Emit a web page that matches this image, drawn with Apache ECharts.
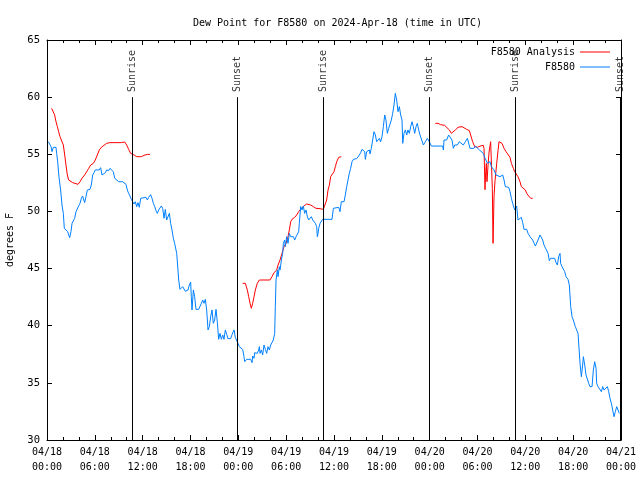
<!DOCTYPE html>
<html><head><meta charset="utf-8">
<script src="https://cdn.jsdelivr.net/npm/echarts@6/dist/echarts.min.js"></script>
<style>html,body{margin:0;padding:0;background:#fff}#c{width:640px;height:480px}</style>
</head><body><div id="c"></div>
<script>
const titleText = 'Dew Point for F8580 on 2024-Apr-18 (time in UTC)';
const yAxisName = 'degrees F';
const xTickLabels = ['04/18\n00:00','04/18\n06:00','04/18\n12:00','04/18\n18:00','04/19\n00:00','04/19\n06:00','04/19\n12:00','04/19\n18:00','04/20\n00:00','04/20\n06:00','04/20\n12:00','04/20\n18:00','04/21\n00:00'];
const seriesNames = ['F8580 Analysis', 'F8580'];
const sunNames = ['Sunrise','Sunset','Sunrise','Sunset','Sunrise','Sunset'];
const sunHours = [10.70, 23.90, 34.66, 47.98, 58.79, 71.96];

// hours since 2024-04-18 00:00 UTC
const blueHours = [0.17,0.42,0.50,0.63,0.79,1.13,1.21,1.34,1.50,1.71,1.88,2.05,2.17,2.42,2.59,2.72,2.84,3.01,3.14,3.30,3.47,3.64,3.80,3.97,4.14,4.31,4.47,4.64,4.72,4.89,5.06,5.23,5.39,5.56,5.73,5.90,6.06,6.31,6.56,6.73,6.90,7.15,7.32,7.48,7.74,7.90,8.15,8.32,8.49,8.74,8.99,9.49,9.74,9.91,10.08,10.24,10.41,10.58,10.75,10.91,11.08,11.25,11.41,11.58,11.75,11.92,12.42,12.59,12.75,13.00,13.17,13.34,13.51,13.67,13.84,14.01,14.17,14.34,14.51,14.68,14.84,15.01,15.18,15.35,15.51,15.68,15.85,16.01,16.27,16.43,16.52,16.68,16.85,17.02,17.18,17.35,17.52,17.69,17.85,18.02,18.10,18.19,18.36,18.52,18.69,19.03,19.36,19.53,19.69,19.86,20.03,20.20,20.36,20.53,20.70,20.86,21.03,21.20,21.37,21.53,21.70,21.87,22.04,22.20,22.37,22.54,22.70,23.04,23.21,23.46,23.62,23.79,23.96,24.12,
24.21,24.54,24.71,24.80,25.05,25.55,25.72,25.80,25.97,26.05,26.22,26.38,26.55,26.64,26.72,26.89,27.05,27.22,27.39,27.56,27.72,27.89,28.06,28.22,28.39,28.56,28.64,28.73,28.89,28.98,29.14,29.23,29.40,29.56,29.65,29.81,29.90,30.06,30.23,30.40,30.57,30.73,30.90,31.07,31.24,31.40,31.57,31.65,31.82,31.99,32.15,32.32,32.49,32.66,32.82,32.99,33.16,33.33,33.49,33.66,33.83,33.91,34.00,34.08,34.25,34.41,34.58,35.75,35.92,36.08,36.59,36.75,36.92,37.09,37.26,37.42,37.59,37.76,37.92,38.09,38.26,38.43,38.84,39.10,39.35,39.51,39.68,39.85,39.93,40.10,40.27,40.43,40.52,40.68,40.85,41.02,41.19,41.35,41.52,41.69,41.85,42.02,42.19,42.36,42.52,42.69,42.86,43.03,43.19,43.36,43.53,43.69,43.86,44.03,44.20,44.36,44.53,44.62,44.78,44.95,45.12,45.28,45.45,45.62,45.79,45.95,46.12,46.29,46.45,46.62,
46.79,47.00,47.21,47.46,47.71,47.96,48.21,49.63,49.72,49.80,49.97,50.13,50.38,50.55,50.80,50.97,51.14,51.47,51.72,51.97,52.22,52.48,52.73,52.89,53.06,53.56,53.73,53.98,54.23,54.73,54.90,55.07,55.24,55.57,55.74,56.07,56.32,56.49,56.82,56.99,57.16,57.33,57.49,57.91,58.08,58.25,58.41,58.66,58.91,59.08,59.33,59.50,59.67,59.83,60.17,60.34,60.59,60.75,60.92,61.26,61.42,61.59,61.84,62.01,62.18,62.34,62.59,62.85,63.01,63.18,63.68,63.85,64.02,64.18,64.35,64.43,64.60,64.77,64.94,65.10,65.35,65.52,65.69,65.86,66.02,66.27,66.44,66.61,66.78,66.86,67.03,67.19,67.28,67.45,67.61,67.78,67.95,68.11,68.37,68.53,68.70,68.87,68.95,69.12,69.37,69.54,69.70,69.87,70.04,70.29,70.46,70.62,70.79,70.96,71.12,71.29,71.46,71.63,71.79];
const blueValues = [56.1,56.1,55.67,55.23,55.61,55.61,55.08,54.35,53.04,51.87,50.56,49.83,48.52,48.43,48.23,48.08,47.70,48.23,48.96,48.81,49.40,49.98,50.13,50.48,50.71,51.15,51.35,51.52,50.77,51.29,51.87,52.02,51.93,52.31,53.19,53.39,53.63,53.48,53.63,53.83,53.19,53.19,53.39,53.63,53.57,53.77,53.86,53.48,52.90,52.81,52.60,52.60,52.69,52.37,51.87,51.58,51.35,51.06,50.94,50.65,50.85,50.42,50.77,50.36,51.15,51.23,51.23,51.00,51.23,51.47,51.15,50.71,50.42,50.07,49.83,50.13,50.24,50.48,50.27,49.40,50.18,49.25,49.40,49.83,48.96,48.37,47.65,47.21,46.33,44.87,44.00,43.18,43.13,43.42,43.48,43.01,43.18,43.13,43.56,43.82,42.54,41.38,43.13,42.54,41.43,41.43,41.96,42.25,41.96,42.31,41.38,39.63,39.92,40.79,41.38,40.21,40.50,41.43,40.27,38.81,39.33,38.81,39.19,38.81,39.63,39.25,38.87,38.87,39.22,39.63,38.98,39.04,38.46,38.17,
38.02,37.93,37.29,36.85,37.06,37.06,36.77,37.35,37.15,37.64,37.73,37.58,37.88,38.17,37.58,37.88,37.44,38.31,37.93,37.58,38.17,37.88,38.31,38.46,38.75,39.33,41.67,44.00,44.87,44.29,45.17,44.87,45.75,46.33,47.21,47.50,46.92,47.79,47.21,48.08,47.79,47.94,47.79,47.50,47.79,47.94,48.23,48.96,50.42,50.13,50.48,49.83,50.13,49.54,49.25,49.40,49.54,49.25,49.40,48.96,48.67,47.79,48.08,48.52,48.96,49.10,49.31,49.31,50.27,50.42,50.36,49.98,50.85,51.00,50.85,51.44,52.17,52.75,53.33,53.77,54.35,54.56,54.62,54.85,55.14,55.43,55.52,55.23,54.56,55.23,55.08,55.38,55.03,55.52,56.25,56.98,56.69,56.10,56.25,56.40,56.10,56.54,57.42,58.44,58.00,56.83,57.27,57.42,58.00,58.58,59.31,60.33,59.75,58.73,59.17,58.44,58.00,55.96,56.83,57.13,56.69,57.13,56.83,57.42,57.85,57.42,56.83,57.42,57.71,57.13,
56.69,56.25,55.81,56.10,56.40,56.10,55.72,55.72,55.38,56.25,56.10,56.25,56.69,56.54,56.25,55.52,55.81,55.81,56.10,55.96,55.81,56.10,56.40,56.54,55.52,55.52,55.72,55.61,55.38,55.08,54.73,54.73,54.21,54.35,53.92,53.63,53.19,53.04,53.04,52.90,53.19,52.75,52.17,52.11,51.73,51.15,50.71,50.13,50.48,49.25,49.31,49.48,49.02,48.43,48.43,48.08,47.79,47.85,47.50,46.97,46.97,47.50,47.94,48.08,47.50,47.06,47.15,46.33,45.69,45.90,45.90,45.52,45.31,46.04,46.33,45.46,45.17,45.02,44.73,44.29,44.06,43.56,41.67,40.79,40.50,39.92,39.62,39.33,39.33,36.71,35.54,36.56,37.29,36.56,35.69,35.54,34.96,34.67,34.67,36.12,36.85,36.27,34.96,34.67,34.52,34.23,34.67,34.37,34.52,34.67,34.23,33.65,33.21,32.62,32.04,32.48,32.92,33.06,32.33];

const red1Hours = [0.58,0.79,0.96,1.13,1.30,1.46,1.63,1.88,2.05,2.22,2.38,2.55,2.72,2.97,3.22,3.47,3.89,4.14,4.39,4.72,4.98,5.23,5.48,5.81,6.06,6.31,6.56,6.82,7.07,7.48,7.90,9.32,9.74,9.99,10.24,10.49,10.66,10.99,11.25,11.83,12.17,12.59,12.92];
const red1Values = [59.02,59.02,58.44,57.85,57.42,56.98,56.54,56.40,55.81,54.94,54.06,53.19,52.75,52.66,52.52,52.37,52.37,52.60,52.90,53.19,53.48,53.77,54.06,54.21,54.50,54.94,55.38,55.61,55.73,55.96,56.02,56.02,56.08,55.81,55.44,55.08,54.91,54.91,54.79,54.79,54.91,54.99,54.99];
const red2Hours = [24.54,24.88,25.13,25.30,25.47,25.63,25.80,25.97,26.13,26.38,26.64,27.97,28.22,28.47,28.81,28.98,29.23,29.48,29.73,29.98,30.23,30.40,30.57,30.73,31.07,31.32,31.57,31.90,32.24,32.57,32.82,33.07,33.41,33.74,34.25,34.66,34.91,35.08,35.25,35.42,35.58,35.75,36.00,36.17,36.34,36.59,36.92];
const red2Values = [43.71,43.71,43.12,42.54,41.96,41.52,41.96,42.54,43.12,43.71,44.00,44.00,44.29,44.64,44.87,45.31,45.75,46.33,46.92,47.21,47.79,48.38,49.10,49.31,49.48,49.69,49.98,50.27,50.48,50.65,50.71,50.56,50.42,50.27,50.24,50.18,50.27,51.00,51.87,52.31,53.04,53.19,53.48,53.92,54.35,54.73,54.79];
const red3Hours = [48.71,49.05,49.38,49.88,50.13,50.47,50.72,50.97,51.22,51.56,51.81,52.06,52.31,52.64,52.98,53.14,53.39,53.65,53.98,54.32,54.73,54.82,54.94,55.03,55.11,55.19,55.32,55.45,55.65,55.78,55.86,55.95,56.07,56.20,56.41,56.57,56.70,56.82,57.07,57.33,57.58,57.83,58.08,58.25,58.50,58.66,58.91,59.08,59.33,59.50,59.67,60.00,60.17,60.42,60.67,60.92];
const red3Values = [57.71,57.71,57.59,57.53,57.36,57.13,56.83,56.89,57.13,57.36,57.48,57.42,57.27,57.18,57.07,56.69,56.10,55.67,55.61,55.72,55.78,55.50,51.90,53.50,54.20,52.60,54.00,55.20,56.10,56.10,52.00,47.21,51.30,52.70,54.21,55.30,56.10,56.10,55.96,55.52,55.23,55.08,54.73,54.21,53.77,53.48,53.39,53.04,52.60,52.17,52.02,51.88,51.58,51.35,51.15,51.15];

const MONO = '"DejaVu Sans Mono", "Liberation Mono", monospace';
const LINE_ICON = 'path://M0,0 L0.01,0 L0,0.01 Z M0,4.5 L30,4.5 L30,5.5 L0,5.5 Z M30,10 L29.99,10 L30,9.99 Z';
const zip = (hs, vs) => hs.map((h, i) => [h, vs[i]]);
const redData = zip(red1Hours, red1Values)
  .concat([[(red1Hours[red1Hours.length-1] + red2Hours[0]) / 2, '-']])
  .concat(zip(red2Hours, red2Values))
  .concat([[(red2Hours[red2Hours.length-1] + red3Hours[0]) / 2, '-']])
  .concat(zip(red3Hours, red3Values));
const blueData = zip(blueHours, blueValues);

const axisCommon = {
  type: 'value', min: 0, max: 72, interval: 6,
  axisLine: { show: true, onZero: false, lineStyle: { color: '#000', width: 1 } },
  axisTick: { show: true, inside: true, length: 5, lineStyle: { color: '#000' } },
  minorTick: { show: true, splitNumber: 3, length: 3, lineStyle: { color: '#000' } },
  splitLine: { show: false }
};
const yCommon = {
  type: 'value', min: 30, max: 65, interval: 5,
  axisLine: { show: true, onZero: false, lineStyle: { color: '#000', width: 1 } },
  axisTick: { show: true, inside: true, length: 5, lineStyle: { color: '#000' } },
  splitLine: { show: false }
};

const chart = echarts.init(document.getElementById('c'), null, { renderer: 'canvas' });
chart.setOption({
  animation: false,
  backgroundColor: '#fff',
  title: {
    text: titleText, left: 188, top: 13,
    textStyle: { fontFamily: MONO, fontSize: 10, fontWeight: 'normal', color: '#000' }
  },
  legend: {
    data: seriesNames.map(n => ({ name: n, icon: LINE_ICON })),
    orient: 'vertical', right: 25, top: 42, align: 'right',
    itemWidth: 30, itemHeight: 10, itemGap: 5,
    textStyle: { fontFamily: MONO, fontSize: 10, color: '#000' }
  },
  grid: { left: 47, right: 19, top: 40, bottom: 40, containLabel: false, outerBoundsMode: 'none' },
  xAxis: [
    Object.assign({}, axisCommon, {
      position: 'bottom',
      axisLabel: {
        fontFamily: MONO, fontSize: 10, color: '#000', lineHeight: 15, margin: 5,
        formatter: v => xTickLabels[Math.round(v / 6)]
      }
    }),
    Object.assign({}, axisCommon, { position: 'top', axisLabel: { show: false } })
  ],
  yAxis: [
    Object.assign({}, yCommon, {
      position: 'left',
      name: yAxisName, nameLocation: 'middle', nameRotate: 90, nameGap: 32,
      nameTextStyle: { fontFamily: MONO, fontSize: 10, color: '#000' },
      axisLabel: { fontFamily: MONO, fontSize: 10.5, color: '#000', margin: 7 }
    }),
    Object.assign({}, yCommon, { position: 'right', axisLabel: { show: false } })
  ],
  series: [
    {
      name: seriesNames[0], type: 'line', data: redData, symbol: 'none',
      connectNulls: false, color: '#ff0000',
      lineStyle: { color: '#ff0000', width: 1 }
    },
    {
      name: seriesNames[1], type: 'line', data: blueData, symbol: 'none',
      color: '#0080ff',
      lineStyle: { color: '#0080ff', width: 1 },
      markLine: {
        silent: true, symbol: 'none', animation: false,
        lineStyle: { color: '#000', width: 1, type: 'solid' },
        label: { show: false },
        data: sunHours.map(h => [{ coord: [h, 30] }, { coord: [h, 60] }])
      }
    },
    {
      name: 'sun', type: 'scatter', symbolSize: 0, silent: true,
      data: sunHours.map((h, i) => ({ value: [h, 60.45], name: sunNames[i] })),
      label: {
        show: true, position: 'inside', rotate: 90, align: 'left', verticalAlign: 'middle',
        formatter: p => p.name,
        fontFamily: MONO, fontSize: 10, color: '#000'
      }
    }
  ]
});
</script></body></html>
